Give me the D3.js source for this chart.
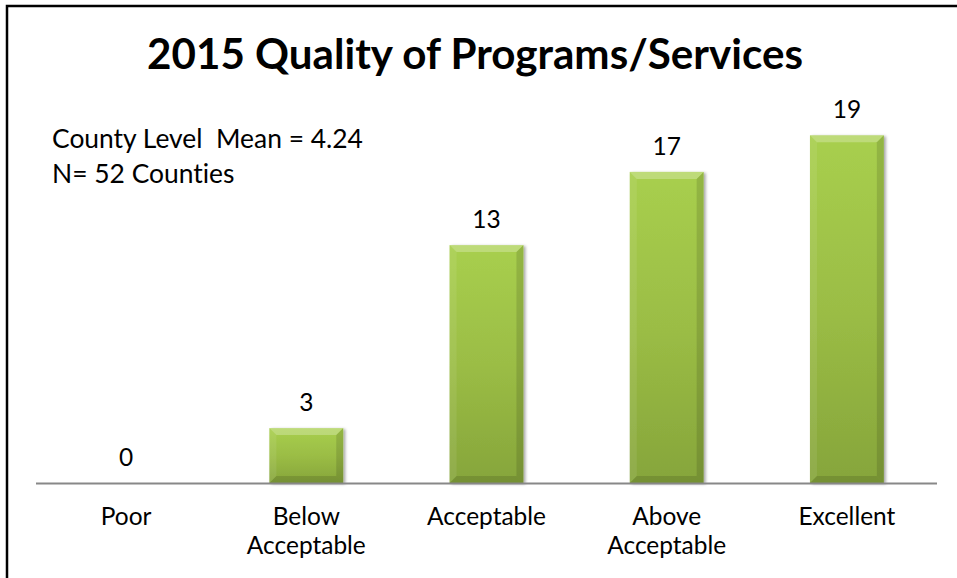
<!DOCTYPE html>
<html><head><meta charset="utf-8">
<script src="https://cdn.jsdelivr.net/npm/d3@7/dist/d3.min.js"></script>
<style>body{margin:0;background:#fff}svg{display:block}text{font-family:Lato,"Open Sans",sans-serif;fill:#000;font-variant-ligatures:none;font-feature-settings:"liga" 0,"clig" 0;white-space:pre}</style>
</head><body>
<script>
const categories = ["Poor", "Below Acceptable", "Acceptable", "Above Acceptable", "Excellent"];
const categoryLines = [["Poor"], ["Below", "Acceptable"], ["Acceptable"], ["Above", "Acceptable"], ["Excellent"]];
const values = [0, 3, 13, 17, 19];
const titleText = "2015 Quality of Programs/Services";
const noteLines = ["County Level  Mean = 4.24", "N= 52 Counties"];

const W = 957, H = 578;
const svg = d3.select("body").append("svg").attr("width", W).attr("height", H);
const defs = svg.append("defs");
const grad = defs.append("linearGradient").attr("id", "g").attr("x1", 0).attr("y1", 0).attr("x2", 0).attr("y2", 1);
grad.append("stop").attr("offset", "0").attr("stop-color", "#a8cf4e");
grad.append("stop").attr("offset", "0.5").attr("stop-color", "#9bbd45");
grad.append("stop").attr("offset", "1").attr("stop-color", "#86a53b");
const f = defs.append("filter").attr("id", "sh").attr("x", "-20%").attr("y", "-20%").attr("width", "150%").attr("height", "150%");
f.append("feDropShadow").attr("dx", 2).attr("dy", 1).attr("stdDeviation", 1.6).attr("flood-color", "#000").attr("flood-opacity", 0.35);

// frame
svg.append("rect").attr("x", 7).attr("y", 6).attr("width", 1200).attr("height", 900)
  .attr("fill", "none").attr("stroke", "#000").attr("stroke-width", 2.5);

const x = d3.scaleBand().domain(categories).range([36, 937]).paddingInner(0.59).paddingOuter(0.295);
const y = d3.scaleLinear().domain([0, 20]).range([483, 117]);

function fit(sel, target) {
  const fs = parseFloat(sel.attr("font-size"));
  const w = sel.node().getComputedTextLength();
  sel.attr("font-size", fs * target / w);
}

// title
const t = svg.append("text").attr("x", 475).attr("y", 69).attr("text-anchor", "middle")
  .attr("font-weight", "bold").attr("font-size", 32).text(titleText);
fit(t, 656);

// notes
const n0 = svg.append("text").attr("x", 52).attr("y", 148).attr("font-size", 20)
  .attr("xml:space", "preserve").text(noteLines[0]);
fit(n0, 311);
const nfs = n0.attr("font-size");
svg.append("text").attr("x", 52).attr("y", 183).attr("font-size", nfs).text(noteLines[1]);

// bars
const b = 7;
const g = svg.append("g");
categories.forEach((c, i) => {
  const v = values[i];
  if (v <= 0) return;
  const x0 = x(c), x1 = x0 + x.bandwidth(), y0 = y(v), y1 = y(0);
  const bg = g.append("g");
  bg.append("rect").attr("x", x0).attr("y", y0).attr("width", x1 - x0).attr("height", y1 - y0)
    .attr("fill", "url(#g)").attr("filter", "url(#sh)");
  const p = (pts, fill, op) => bg.append("polygon").attr("points", pts.map(d => d.join(",")).join(" "))
    .attr("fill", fill).attr("fill-opacity", op);
  p([[x0, y0], [x1, y0], [x1 - b, y0 + b], [x0 + b, y0 + b]], "#fff", 0.25);
  p([[x0, y0], [x0 + b, y0 + b], [x0 + b, y1 - b], [x0, y1]], "#fff", 0.08);
  p([[x1, y0], [x1 - b, y0 + b], [x1 - b, y1 - b], [x1, y1]], "#000", 0.12);
  p([[x0, y1], [x0 + b, y1 - b], [x1 - b, y1 - b], [x1, y1]], "#000", 0.12);
});

// axis line
svg.append("line").attr("x1", 36).attr("x2", 937).attr("y1", 483.5).attr("y2", 483.5)
  .attr("stroke", "#888").attr("stroke-width", 2);

// category labels
const probe = svg.append("text").attr("font-size", 20).text("Acceptable");
fit(probe, 119);
const cfs = probe.attr("font-size");
probe.remove();
categories.forEach((c, i) => {
  categoryLines[i].forEach((ln, j) => {
    svg.append("text").attr("x", x(c) + x.bandwidth() / 2).attr("y", 525 + j * 29)
      .attr("text-anchor", "middle").attr("font-size", cfs).text(ln);
  });
  svg.append("text").attr("x", x(c) + x.bandwidth() / 2).attr("y", y(values[i]) - 17)
    .attr("text-anchor", "middle").attr("font-size", cfs).text(values[i]);
});
</script>
</body></html>
